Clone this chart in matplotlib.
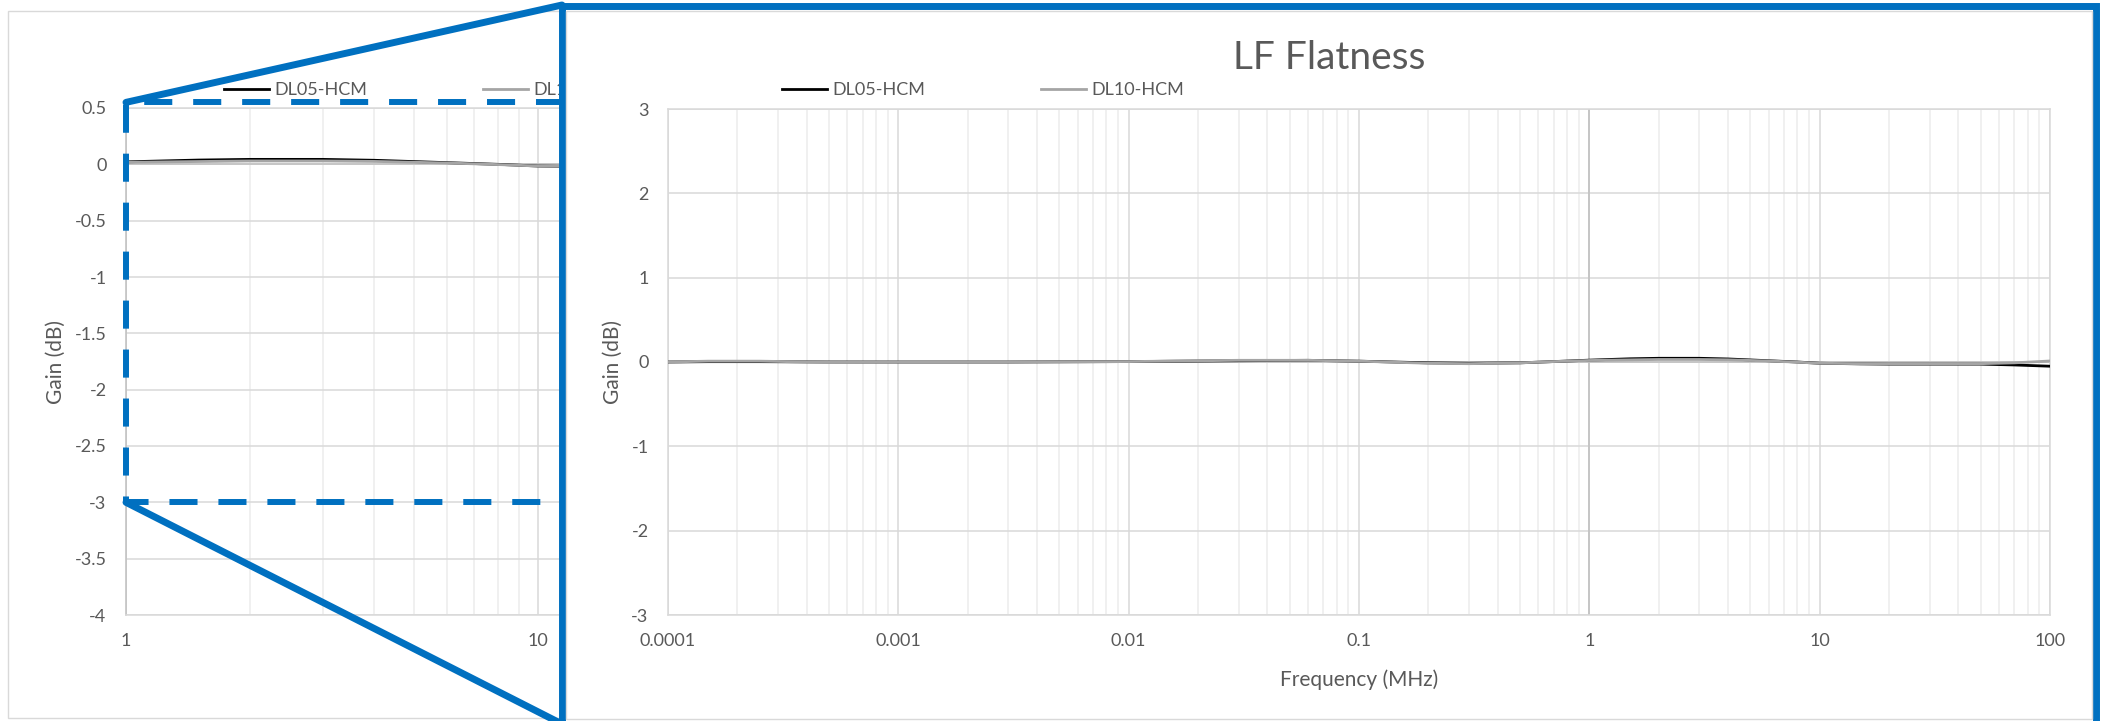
import numpy as np
import matplotlib
matplotlib.use("Agg")
import matplotlib.pyplot as plt
from matplotlib.patches import Rectangle, ConnectionPatch
from matplotlib.ticker import LogLocator, NullFormatter, FixedLocator, FixedFormatter

plt.rcParams['font.family'] = ['Lato', 'DejaVu Sans']

# data (frequency in MHz, gain in dB)
freq = [1e-4, 1.5e-4, 2.5e-4, 5e-4, 1e-3, 3e-3, 1e-2, 3e-2, 6e-2, 0.1, 0.2, 0.3, 0.5, 0.7,
        1, 1.5, 2, 3, 4, 6, 8, 10, 15, 20, 30, 50, 70, 100]
dl05_hcm = [0.0, 0.004, 0.004, 0.0, 0.0, 0.0, 0.005, 0.015, 0.02, 0.01, -0.01, -0.015, -0.01, 0.005,
            0.022, 0.038, 0.044, 0.044, 0.036, 0.015, 0.0, -0.015, -0.022, -0.025, -0.025, -0.025, -0.035, -0.05]
dl10_hcm = [0.0, 0.01, 0.01, -0.004, 0.0, 0.0, 0.005, 0.02, 0.02, 0.01, -0.015, -0.02, -0.01, 0.005,
            0.018, 0.025, 0.03, 0.03, 0.026, 0.012, -0.002, -0.015, -0.02, -0.022, -0.022, -0.02, -0.01, 0.012]
series_names = ['DL05-HCM', 'DL10-HCM']
series_colors = ['#000000', '#a5a5a5']

title = 'LF Flatness'
xlabel = 'Frequency (MHz)'
ylabel = 'Gain (dB)'
main_xticks = [1e-4, 1e-3, 1e-2, 0.1, 1, 10, 100]
main_yticks = [-3, -2, -1, 0, 1, 2, 3]
zoom_xticks = [1, 10]
zoom_yticks = [0.5, 0, -0.5, -1, -1.5, -2, -2.5, -3, -3.5, -4]
zoom_xmax = 10 ** (435 / 412)   # zoomed view is cut off by the blue frame
zoom_box_y = (-3, 0.55)         # region marked by the dashed box

W, H = 2107, 721
TXT = '#595959'
BLUE = '#0070c0'
GRID = '#d9d9d9'
MINOR = '#ececec'
AXLINE = '#bfbfbf'


def px_rect(l, t, r, b):
    return [l / W, 1 - b / H, (r - l) / W, (b - t) / H]


def style_axis(ax, xticks, yticks, xlim, ylim):
    ax.set_xscale('log')
    ax.set_xlim(*xlim)
    ax.set_ylim(*ylim)
    ax.xaxis.set_major_locator(FixedLocator(xticks))
    ax.xaxis.set_major_formatter(FixedFormatter([f"{v:g}" for v in xticks]))
    ax.xaxis.set_minor_locator(LogLocator(base=10, subs=np.arange(2, 10), numticks=20))
    ax.xaxis.set_minor_formatter(NullFormatter())
    ax.yaxis.set_major_locator(FixedLocator(yticks))
    ax.yaxis.set_major_formatter(FixedFormatter([f"{v:g}" for v in yticks]))
    ax.tick_params(which='both', length=0, labelsize=13, labelcolor=TXT)
    ax.tick_params(axis='y', pad=14)
    ax.tick_params(axis='x', pad=13)
    ax.grid(which='minor', axis='x', color=MINOR, lw=1.1, zorder=0)
    ax.grid(which='major', axis='both', color=GRID, lw=1.1, zorder=0)
    ax.set_axisbelow(True)
    for s in ax.spines.values():
        s.set_color(GRID)
        s.set_linewidth(1.1)
    ax.axhline(0, color=AXLINE, lw=1.1, zorder=1)
    ax.set_facecolor('none')


fig = plt.figure(figsize=(W / 100, H / 100), dpi=100)

# background: frame of the left (zoomed) chart
bg = fig.add_axes([0, 0, 1, 1], zorder=0)
bg.set_xlim(0, W)
bg.set_ylim(H, 0)
bg.axis('off')
bg.add_patch(Rectangle((8, 11), 700, 707, fill=False, ec=GRID, lw=1))

# left chart: zoom of 1 MHz and up
ax1 = fig.add_axes(px_rect(126, 108, 561, 615), zorder=1)
style_axis(ax1, zoom_xticks, zoom_yticks, (1, zoom_xmax), (-4, 0.5))
ax1.spines['left'].set_color(AXLINE)
lines1 = []
for vals, name, col in zip([dl05_hcm, dl10_hcm], series_names, series_colors):
    l, = ax1.plot(freq, vals, color=col, lw=2, label=name, zorder=3)
    lines1.append(l)
ax1.set_ylabel(ylabel, fontsize=15, color=TXT)
ax1.yaxis.set_label_coords(-0.138, 0.5)
ax1.legend(handles=lines1, loc='center left', bbox_to_anchor=(224 / W, 1 - 90 / H),
           bbox_transform=fig.transFigure, ncol=2, frameon=False, fontsize=13,
           handlelength=2.5, handletextpad=0.3, columnspacing=6.4, borderpad=0,
           borderaxespad=0, labelcolor=TXT)

# dashed box marking the zoom region
ax1.plot([20, 1, 1, 20], [zoom_box_y[1], zoom_box_y[1], zoom_box_y[0], zoom_box_y[0]],
         color=BLUE, lw=4.3, ls=(0, (4.7, 3.5)), clip_on=False, zorder=6)

# connecting lines from the box to the enlarged panel
for yv, corner in [(zoom_box_y[1], (562, 5)), (zoom_box_y[0], (562, 724))]:
    cp = ConnectionPatch(xyA=(1, yv), coordsA=ax1.transData,
                         xyB=(corner[0] / W, 1 - corner[1] / H), coordsB=fig.transFigure,
                         color=BLUE, lw=5, zorder=2)
    fig.add_artist(cp)

# enlarged panel with blue frame
pan = fig.add_axes([0, 0, 1, 1], zorder=3)
pan.set_xlim(0, W)
pan.set_ylim(H, 0)
pan.axis('off')
pan.patch.set_alpha(0)
pan.add_patch(Rectangle((562, 6), 1534, 740, fc='white', ec=BLUE, lw=5, clip_on=False))
pan.add_patch(Rectangle((566, 11), 1526, 708, fill=False, ec=GRID, lw=1))
pan.text(1329, 69, title, ha='center', va='baseline', fontsize=28, color=TXT)

ax2 = fig.add_axes(px_rect(668, 109, 2050, 615), zorder=4)
style_axis(ax2, main_xticks, main_yticks, (1e-4, 100), (-3, 3))
ax2.axvline(1, color=AXLINE, lw=1.1, zorder=1)
lines2 = []
for vals, name, col in zip([dl05_hcm, dl10_hcm], series_names, series_colors):
    l, = ax2.plot(freq, vals, color=col, lw=2, label=name, zorder=3)
    lines2.append(l)
ax2.set_ylabel(ylabel, fontsize=15, color=TXT)
ax2.yaxis.set_label_coords(-0.0326, 0.5)
ax2.set_xlabel(xlabel, fontsize=15, color=TXT)
ax2.xaxis.set_label_coords(0.5, -0.107)
ax2.legend(handles=lines2, loc='center left', bbox_to_anchor=(782 / W, 1 - 90 / H),
           bbox_transform=fig.transFigure, ncol=2, frameon=False, fontsize=13,
           handlelength=2.5, handletextpad=0.3, columnspacing=6.4, borderpad=0,
           borderaxespad=0, labelcolor=TXT)

fig.savefig('out.png', dpi=100)
